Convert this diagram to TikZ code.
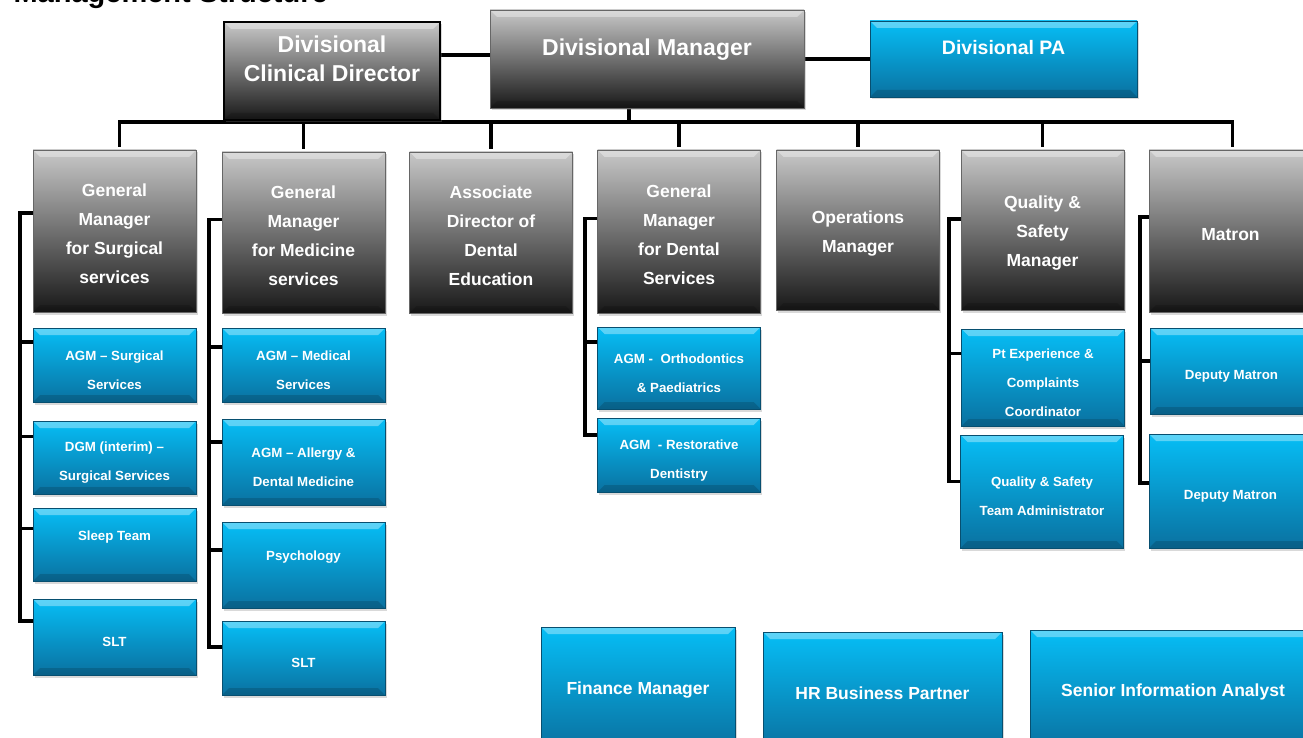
\documentclass[tikz,border=0pt]{standalone}
\usepackage{fontspec}
\setmainfont{Liberation Sans}
\usetikzlibrary{shadows,backgrounds}

\definecolor{blueTop}{HTML}{06BEF6}
\definecolor{blueBot}{HTML}{0A71A0}
\definecolor{greyTop}{HTML}{C8C8C8}
\definecolor{greyBot}{HTML}{181818}

\tikzset{
  bevel/.style={path picture={
    \fill[white,opacity=0.35] (path picture bounding box.north west) -- (path picture bounding box.north east)
      -- ([xshift=-7pt,yshift=-7pt]path picture bounding box.north east) -- ([xshift=7pt,yshift=-7pt]path picture bounding box.north west) -- cycle;
    \fill[black,opacity=0.15] (path picture bounding box.south west) -- (path picture bounding box.south east)
      -- ([xshift=-7pt,yshift=7pt]path picture bounding box.south east) -- ([xshift=7pt,yshift=7pt]path picture bounding box.south west) -- cycle;
  }},
  box/.style={rectangle, inner sep=0pt, align=center, text=white, bevel,
    drop shadow={shadow xshift=1.5pt, shadow yshift=-2.5pt, opacity=0.3}},
  greybox/.style={box, top color=greyTop, bottom color=greyBot, draw=black!60, line width=0.5pt},
  bluebox/.style={box, top color=blueTop, bottom color=blueBot, draw=blueBot!70!black, line width=0.5pt},
  % \lift opens the first line of a box text a little higher, to push the text down
  head/.style={font=\fontsize{23}{29}\selectfont\bfseries, execute at begin node={\def\lift{\rule{0pt}{22pt}}}},
  col/.style={font=\fontsize{17.5}{29}\selectfont\bfseries, minimum width=163pt, execute at begin node={\def\lift{\rule{0pt}{19pt}}}},
  sub/.style={font=\fontsize{13.3}{29}\selectfont\bfseries, minimum width=163pt, execute at begin node={\def\lift{\rule{0pt}{20pt}}}},
  base/.style={font=\fontsize{17.5}{22}\selectfont\bfseries, execute at begin node={\def\lift{\rule{0pt}{17pt}}}},
  link/.style={draw=black, line width=3.5pt, line cap=rect},
}

\begin{document}
\begin{tikzpicture}[x=1pt,y=-1pt]
\useasboundingbox (0,0) rectangle (1303,738);
\node[anchor=base west, font=\fontsize{29}{29}\selectfont\bfseries] (title) at (10,3) {Management Structure};

% top row
\node[greybox, draw=black, line width=1.2pt, head, minimum width=216pt, minimum height=98pt] (dcd) at (332,71) {\lift Divisional\\Clinical Director\\~};
\node[greybox, head, minimum width=314pt, minimum height=98pt] (dm) at (647,59) {\lift Divisional Manager\\~};
\node[bluebox, font=\fontsize{19.5}{24}\selectfont\bfseries, minimum width=267pt, minimum height=76pt] (pa) at (1003.5,59) {Divisional PA\\~};

% managers
\node[greybox, col, minimum height=162pt] (gms) at (114.5,231) {\lift General\\Manager\\for Surgical\\services};
\node[greybox, col, minimum height=161pt] (gmm) at (303.5,232.5) {\lift General\\Manager\\for Medicine\\services};
\node[greybox, col, minimum height=161pt] (add) at (491,232.5) {\lift Associate\\Director of\\Dental\\Education};
\node[greybox, col, minimum height=163pt] (gmd) at (679,231.5) {\lift General\\Manager\\for Dental\\Services};
\node[greybox, col, minimum height=160pt] (ops) at (858,230) {\lift Operations\\Manager};
\node[greybox, col, minimum height=160pt] (qsm) at (1042.5,230) {\lift Quality \&\\Safety\\Manager};
\node[greybox, col, minimum height=162pt] (mat) at (1230.5,231) {\lift Matron};

% surgical
\node[bluebox, sub, minimum height=74pt] (agms) at (114.5,365) {\lift AGM – Surgical\\Services};
\node[bluebox, sub, minimum height=73pt] (dgms) at (114.5,457.5) {\lift DGM (interim) –\\Surgical Services};
\node[bluebox, sub, minimum height=73pt] (sleep) at (114.5,544.5) {\lift Sleep Team\\~};
\node[bluebox, sub, minimum height=76pt] (slt1) at (114.5,637) {\lift SLT};

% medicine
\node[bluebox, sub, minimum height=74pt] (agmm) at (303.5,365) {\lift AGM – Medical\\Services};
\node[bluebox, sub, minimum height=86pt] (agma) at (303.5,462) {\lift AGM – Allergy \&\\Dental Medicine};
\node[bluebox, sub, minimum height=86pt] (psy) at (303.5,565) {\lift Psychology\\~};
\node[bluebox, sub, minimum height=74pt] (slt2) at (303.5,658) {\lift SLT};

% dental
\node[bluebox, sub, minimum height=82pt] (agmo) at (679,368) {\lift AGM - \ Orthodontics\\\& Paediatrics};
\node[bluebox, sub, minimum height=74pt] (agmr) at (679,455) {\lift AGM \ - Restorative\\Dentistry};

% quality
\node[bluebox, sub, minimum height=97pt] (ptx) at (1043,377.5) {\lift Pt Experience \&\\Complaints\\Coordinator};
\node[bluebox, sub, minimum height=113pt] (qsa) at (1042,491.5) {\lift Quality \& Safety\\Team Administrator};

% matron
\node[bluebox, sub, minimum height=86pt] (dep1) at (1231.5,371) {\lift Deputy Matron};
\node[bluebox, sub, minimum height=114pt] (dep2) at (1230.5,491) {\lift Deputy Matron};

% support
\node[bluebox, base, minimum width=194pt, minimum height=122pt] (fin) at (638,688) {\lift Finance Manager};
\node[bluebox, base, minimum width=239pt, minimum height=118pt] (hr) at (882.5,691) {\lift HR Business Partner};
\node[bluebox, base, minimum width=286pt, minimum height=120pt] (sia) at (1173,690) {\lift Senior Information Analyst};

\coordinate (bus) at (629,122);
\coordinate (sp1) at (20,0);
\coordinate (sp2) at (209,0);
\coordinate (sp4) at (585,0);
\coordinate (sp6) at (949,0);
\coordinate (sp7) at (1140,0);

\begin{scope}[on background layer]
\draw[link] ([yshift=4pt]dcd.east |- dm.west) -- ([yshift=4pt]dm.west);
\draw[link] (dm) -- (pa);
\draw[link] (bus |- dm.south) -- (bus);
\draw[link] ([xshift=5pt]gms.north |- bus) -- ([xshift=2pt]mat.north |- bus);
\foreach \c/\s in {gms/5,gmm/0,add/0,gmd/0,ops/0,qsm/0,mat/2}
  \draw[link] ([xshift=\s pt]\c.north |- bus) -- ([xshift=\s pt,yshift=4pt]\c.north);

\draw[link] ([yshift=18pt]sp1 |- gms.west) -- ([yshift=16pt]sp1 |- slt1.west);
\foreach \b/\d in {gms/18,agms/23,dgms/21,sleep/16,slt1/16}
  \draw[link] ([yshift=\d pt]sp1 |- \b.west) -- ([yshift=\d pt]\b.west);

\draw[link] ([yshift=13pt]sp2 |- gmm.west) -- ([yshift=11pt]sp2 |- slt2.west);
\foreach \b/\d in {gmm/13,agmm/18,agma/20,psy/15,slt2/11}
  \draw[link] ([yshift=\d pt]sp2 |- \b.west) -- ([yshift=\d pt]\b.west);

\draw[link] ([yshift=13pt]sp4 |- gmd.west) -- ([yshift=20pt]sp4 |- agmr.west);
\foreach \b/\d in {gmd/13,agmo/26,agmr/20}
  \draw[link] ([yshift=\d pt]sp4 |- \b.west) -- ([yshift=\d pt]\b.west);

\draw[link] ([yshift=11pt]sp6 |- qsm.west) -- ([yshift=10pt]sp6 |- qsa.west);
\foreach \b/\d in {qsm/11,ptx/24,qsa/10}
  \draw[link] ([yshift=\d pt]sp6 |- \b.west) -- ([yshift=\d pt]\b.west);

\draw[link] ([yshift=14pt]sp7 |- mat.west) -- ([yshift=8pt]sp7 |- dep2.west);
\foreach \b/\d in {mat/14,dep1/10,dep2/8}
  \draw[link] ([yshift=\d pt]sp7 |- \b.west) -- ([yshift=\d pt]\b.west);
\end{scope}
\end{tikzpicture}
\end{document}
